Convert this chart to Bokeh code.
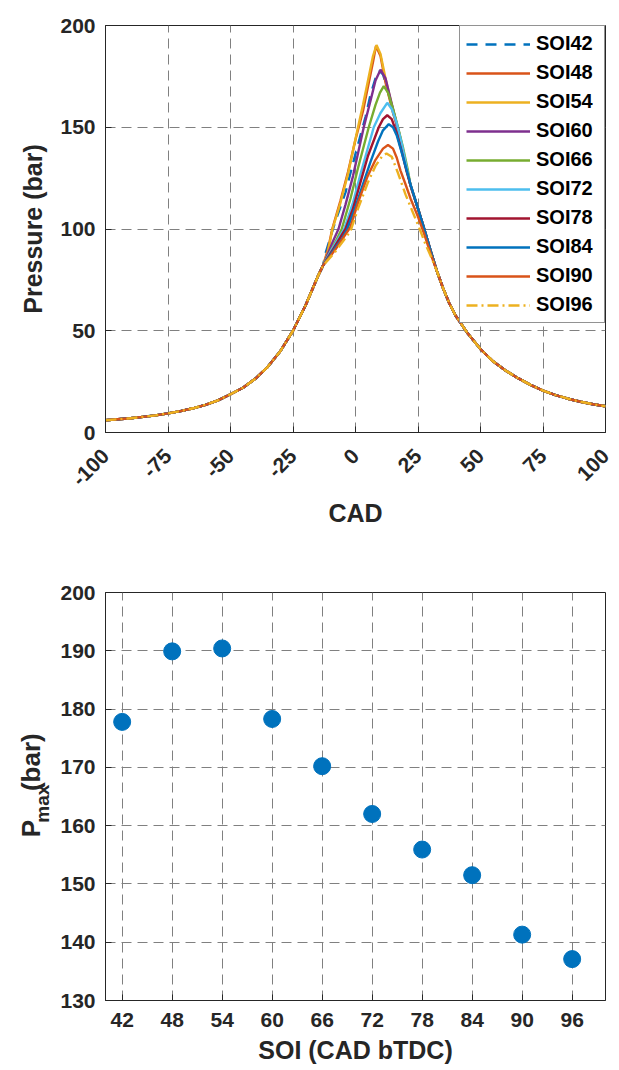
import math
from bokeh.plotting import figure
from bokeh.models import FixedTicker, NumeralTickFormatter
from bokeh.core.properties import value
from bokeh.layouts import column, row
from bokeh.embed import file_html
from bokeh.resources import INLINE

# ---------------- data: cylinder pressure traces (CAD, bar) ----------------
cad_comp = [-100, -95, -90, -85, -80, -75, -70, -65, -60, -55, -50, -45, -40, -35, -30, -25, -20, -15]
p_comp = [6.0, 6.5, 7.0, 7.7, 8.4, 9.4, 10.5, 11.9, 13.6, 15.8, 18.8, 22.0, 26.5, 32.4, 40.1, 50.0, 62.4, 76.9]

cad_exp = [32.5, 35, 37.5, 40, 45, 50, 55, 60, 65, 70, 75, 80, 85, 90, 95, 100]
p_exp = [79.5, 71.0, 63.5, 57.5, 48.5, 41.0, 35.0, 30.5, 26.7, 23.4, 20.6, 18.4, 16.6, 15.1, 13.9, 12.9]

cad_soi42 = [-13, -12, -10, -8, -4, 0, 2, 4, 6, 8, 9.5, 11, 13, 15, 17, 20, 22, 25, 27.5, 30]
p_soi42 = [82, 88, 96, 104, 118, 137, 146, 155, 166, 174, 177.8, 176, 168, 158, 148, 131, 121.5, 110, 100, 89.5]

cad_soi48 = [-13, -11, -9.3, -6, -3, 0, 3, 5, 7, 8.2, 10, 12, 15, 17.5, 20, 22, 25, 27.5, 30]
p_soi48 = [82, 90, 100, 114, 128, 144, 158, 170, 182, 189.9, 185, 172, 157, 147, 132, 121.5, 110, 100, 89.5]

cad_soi54 = [-13, -11, -9.2, -6, -3, 1, 3, 5, 7, 8.4, 10, 12, 14.7, 17.3, 20, 22, 25, 27.5, 30]
p_soi54 = [82, 89, 100, 113, 127, 150, 161, 173, 185, 190.4, 186, 174, 160, 148, 133, 121.5, 110, 100, 89.5]

cad_soi60 = [-13, -11, -9, -6.8, -4, -1, 3.3, 6, 8, 10, 12, 14, 16, 18, 20, 22, 25, 27.5, 30]
p_soi60 = [82, 88, 94, 100, 112, 126, 150, 163, 173, 178.3, 174, 164, 154, 143, 132, 121.5, 110, 100, 89.5]

cad_soi66 = [-13, -10, -7.5, -5.5, -2, 1, 5.3, 8, 9.8, 11.3, 13, 15, 17, 19, 21, 22, 25, 27.5, 30]
p_soi66 = [82, 89, 95, 100, 115, 130, 150, 161, 167, 170.2, 167, 159, 150, 140, 128.5, 121.5, 110, 100, 89.5]

cad_soi72 = [-13, -9.5, -7, -4.5, -1, 2, 7.3, 10, 12.7, 14.5, 16.5, 18.5, 20.5, 22, 25, 27.5, 30]
p_soi72 = [82, 90, 95, 100, 113, 127, 150, 157, 162.0, 159, 152, 142, 130, 121.5, 110, 100, 89.5]

cad_soi78 = [-13, -9, -6.5, -4, -1, 2, 5, 9.3, 11, 12.7, 14.5, 16.5, 18.5, 20.5, 22, 25, 27.5, 30]
p_soi78 = [82, 90, 95, 100, 110, 123, 136, 150, 154, 155.9, 154, 147, 138, 128, 121.5, 110, 100, 89.5]

cad_soi84 = [-13, -8, -5.5, -3.3, 0, 3, 6, 9, 11, 13.3, 15, 16.5, 18.5, 20.5, 22, 25, 27.5, 30]
p_soi84 = [82, 91, 95, 100, 111, 122, 133, 143, 148.5, 151.5, 150, 146, 137.5, 128.7, 122, 110, 100, 89.5]

cad_soi90 = [-13, -8, -5, -2, 1, 4.7, 8, 11, 13, 15, 16.5, 18, 20, 22, 25, 27.5, 30]
p_soi90 = [82, 90, 95.5, 101, 113, 125.5, 134, 139.5, 141.3, 139.5, 135, 128.7, 122, 115, 106, 97.5, 88]

cad_soi96 = [-13, -8, -5, -2, 1, 5, 8, 10.5, 12.4, 14.5, 17, 20, 23, 26, 28, 30]
p_soi96 = [82, 89, 94, 99, 110, 123, 131, 135.5, 137.1, 135.5, 127.5, 117, 108, 99, 92.5, 87]

series_names = ["SOI42", "SOI48", "SOI54", "SOI60", "SOI66", "SOI72", "SOI78", "SOI84", "SOI90", "SOI96"]
series_cad = [cad_soi42, cad_soi48, cad_soi54, cad_soi60, cad_soi66, cad_soi72, cad_soi78, cad_soi84, cad_soi90, cad_soi96]
series_p = [p_soi42, p_soi48, p_soi54, p_soi60, p_soi66, p_soi72, p_soi78, p_soi84, p_soi90, p_soi96]

# ---------------- data: peak pressure vs SOI ----------------
soi = [42, 48, 54, 60, 66, 72, 78, 84, 90, 96]
pmax = [177.8, 189.9, 190.4, 178.3, 170.2, 162.0, 155.9, 151.5, 141.3, 137.1]

x1_ticks = [-100, -75, -50, -25, 0, 25, 50, 75, 100]
y1_ticks = [0, 50, 100, 150, 200]
x2_ticks = [42, 48, 54, 60, 66, 72, 78, 84, 90, 96]
y2_ticks = [130, 140, 150, 160, 170, 180, 190, 200]

# ---------------- styling ----------------
colors = ["#0072BD", "#D95319", "#EDB120", "#7E2F8E", "#77AC30",
          "#4DBEEE", "#A2142F", "#0072BD", "#D95319", "#EDB120"]
dashes = ["11 8", "solid", "solid", "solid", "solid", "solid", "solid", "solid", "solid", "11 4 2 4"]
FONT = "Liberation Sans"
INK = "#262626"


def style(p, xt, yt):
    p.xaxis.ticker = FixedTicker(ticks=xt)
    p.yaxis.ticker = FixedTicker(ticks=yt)
    for ax in p.axis:
        ax.major_label_text_font = FONT
        ax.major_label_text_font_style = "bold"
        ax.major_label_text_font_size = "21px"
        ax.major_label_text_color = INK
        ax.axis_label_text_font = FONT
        ax.axis_label_text_font_style = "bold"
        ax.axis_label_text_font_size = "25px"
        ax.axis_label_text_color = INK
        ax.axis_line_color = INK
        ax.major_tick_line_color = INK
        ax.major_tick_in = 6
        ax.major_tick_out = 0
        ax.minor_tick_in = 0
        ax.minor_tick_out = 0
    p.grid.grid_line_color = "#808080"
    p.grid.grid_line_dash = "10 6"
    p.grid.grid_line_width = 1
    p.outline_line_color = INK
    p.outline_line_width = 1
    p.outline_line_alpha = 1


# ---------------- top: pressure traces ----------------
p1 = figure(width=619, height=540, x_range=(-100, 100), y_range=(0, 200),
            output_backend="svg", toolbar_location=None,
            min_border_left=105, min_border_right=14, min_border_top=25, min_border_bottom=108)
style(p1, x1_ticks, y1_ticks)
p1.xaxis.formatter = NumeralTickFormatter(format="0")
p1.xaxis.major_label_orientation = math.pi / 4
p1.xaxis.major_label_standoff = 20
p1.yaxis.major_label_standoff = 10
p1.xaxis.axis_label = "CAD"
p1.yaxis.axis_label = "Pressure (bar)"
p1.xaxis.axis_label_standoff = 4
p1.yaxis.axis_label_standoff = 10

for name, cx, cp, col, dsh in zip(series_names, series_cad, series_p, colors, dashes):
    xs = cad_comp + cx + cad_exp
    ys = p_comp + cp + p_exp
    p1.line(xs, ys, line_color=col, line_width=2.4, line_dash=dsh, legend_label=name)

lg = p1.legend[0]
lg.location = "top_right"
lg.margin = 0
lg.padding = 6
lg.spacing = 6
lg.glyph_width = 64
lg.glyph_height = 22
lg.label_height = 22
lg.label_width = 62
lg.label_standoff = 6
lg.label_text_font = FONT
lg.label_text_font_style = "bold"
lg.label_text_font_size = "20px"
lg.label_text_color = "#000000"
lg.border_line_color = INK
lg.border_line_width = 1
lg.background_fill_alpha = 1

# ---------------- bottom: Pmax vs SOI ----------------
p2 = figure(width=564, height=530, x_range=(40, 100), y_range=(130, 200),
            output_backend="svg", toolbar_location=None,
            min_border_left=50, min_border_right=14, min_border_top=52, min_border_bottom=70)
style(p2, x2_ticks, y2_ticks)
p2.xaxis.major_label_standoff = 12
p2.yaxis.major_label_standoff = 10
p2.xaxis.axis_label = "SOI (CAD bTDC)"
p2.xaxis.axis_label_standoff = 6
p2.scatter(soi, pmax, size=17, color="#0072BD")

# narrow strip holding the rotated y-axis title "P_max(bar)" (pixel coordinates)
pl = figure(width=55, height=530, x_range=(0, 55), y_range=(0, 530),
            output_backend="svg", toolbar_location=None,
            x_axis_location=None, y_axis_location=None,
            min_border=0, outline_line_color=None)
pl.grid.visible = False
txt_kw = dict(angle=math.pi / 2, text_font=value(FONT), text_font_style="bold",
              text_color=INK, text_align="left", text_baseline="alphabetic")
pl.text(x=[30], y=[212], text=["P"], text_font_size="26px", **txt_kw)
pl.text(x=[42], y=[231], text=["max"], text_font_size="19px", **txt_kw)
pl.text(x=[30], y=[272], text=["(bar)"], text_font_size="26px", **txt_kw)

layout = column(p1, row(pl, p2))
open("out.html", "w").write(file_html(layout, INLINE))
